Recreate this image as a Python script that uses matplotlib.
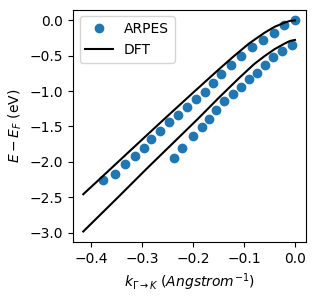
import matplotlib
matplotlib.use("Agg")
import matplotlib.pyplot as plt

# ARPES data (upper and lower branch)
arpes_k_upper = [-0.376, -0.352, -0.333, -0.313, -0.295, -0.282, -0.265, -0.246, -0.229, -0.211,
                 -0.194, -0.176, -0.161, -0.145, -0.126, -0.105, -0.085, -0.063, -0.041, -0.021, 0.0]
arpes_E_upper = [-2.26, -2.17, -2.03, -1.92, -1.80, -1.68, -1.57, -1.44, -1.34, -1.23,
                 -1.11, -1.01, -0.88, -0.76, -0.64, -0.50, -0.385, -0.276, -0.18, -0.064, 0.0]
arpes_k_lower = [-0.238, -0.221, -0.200, -0.183, -0.169, -0.155, -0.139, -0.122, -0.106, -0.090,
                 -0.074, -0.059, -0.043, -0.025, -0.005]
arpes_E_lower = [-1.94, -1.80, -1.64, -1.51, -1.40, -1.27, -1.14, -1.04, -0.94, -0.83,
                 -0.74, -0.63, -0.52, -0.43, -0.35]

# DFT bands
dft_k_upper = [-0.415, -0.37, -0.32, -0.26, -0.20, -0.15, -0.12, -0.09, -0.06, -0.04, -0.02, -0.01, 0.0]
dft_E_upper = [-2.455, -2.155, -1.82, -1.42, -1.025, -0.70, -0.51, -0.33, -0.18, -0.095, -0.035, -0.012, -0.005]
dft_k_lower = [-0.415, -0.35, -0.29, -0.23, -0.19, -0.15, -0.11, -0.08, -0.06, -0.04, -0.02, -0.01, 0.0]
dft_E_lower = [-2.98, -2.52, -2.09, -1.67, -1.39, -1.10, -0.82, -0.62, -0.51, -0.41, -0.33, -0.295, -0.28]

fig = plt.figure(figsize=(3.16, 2.97), dpi=100)
ax = fig.add_axes([0.230, 0.185, 0.737, 0.783])

ax.plot(arpes_k_upper, arpes_E_upper, 'o', color='#1f77b4', label='ARPES')
ax.plot(arpes_k_lower, arpes_E_lower, 'o', color='#1f77b4')
ax.plot(dft_k_upper, dft_E_upper, '-', color='black', label='DFT')
ax.plot(dft_k_lower, dft_E_lower, '-', color='black')

ax.set_xticks([-0.4, -0.3, -0.2, -0.1, 0.0])
ax.set_yticks([0.0, -0.5, -1.0, -1.5, -2.0, -2.5, -3.0])
ax.set_xlabel(r'$k_{\Gamma\rightarrow K}$ $(Angstrom^{-1})$')
ax.set_ylabel(r'$E-E_F$ (eV)')
ax.legend(loc='upper left')

fig.savefig('out.png', dpi=100)
